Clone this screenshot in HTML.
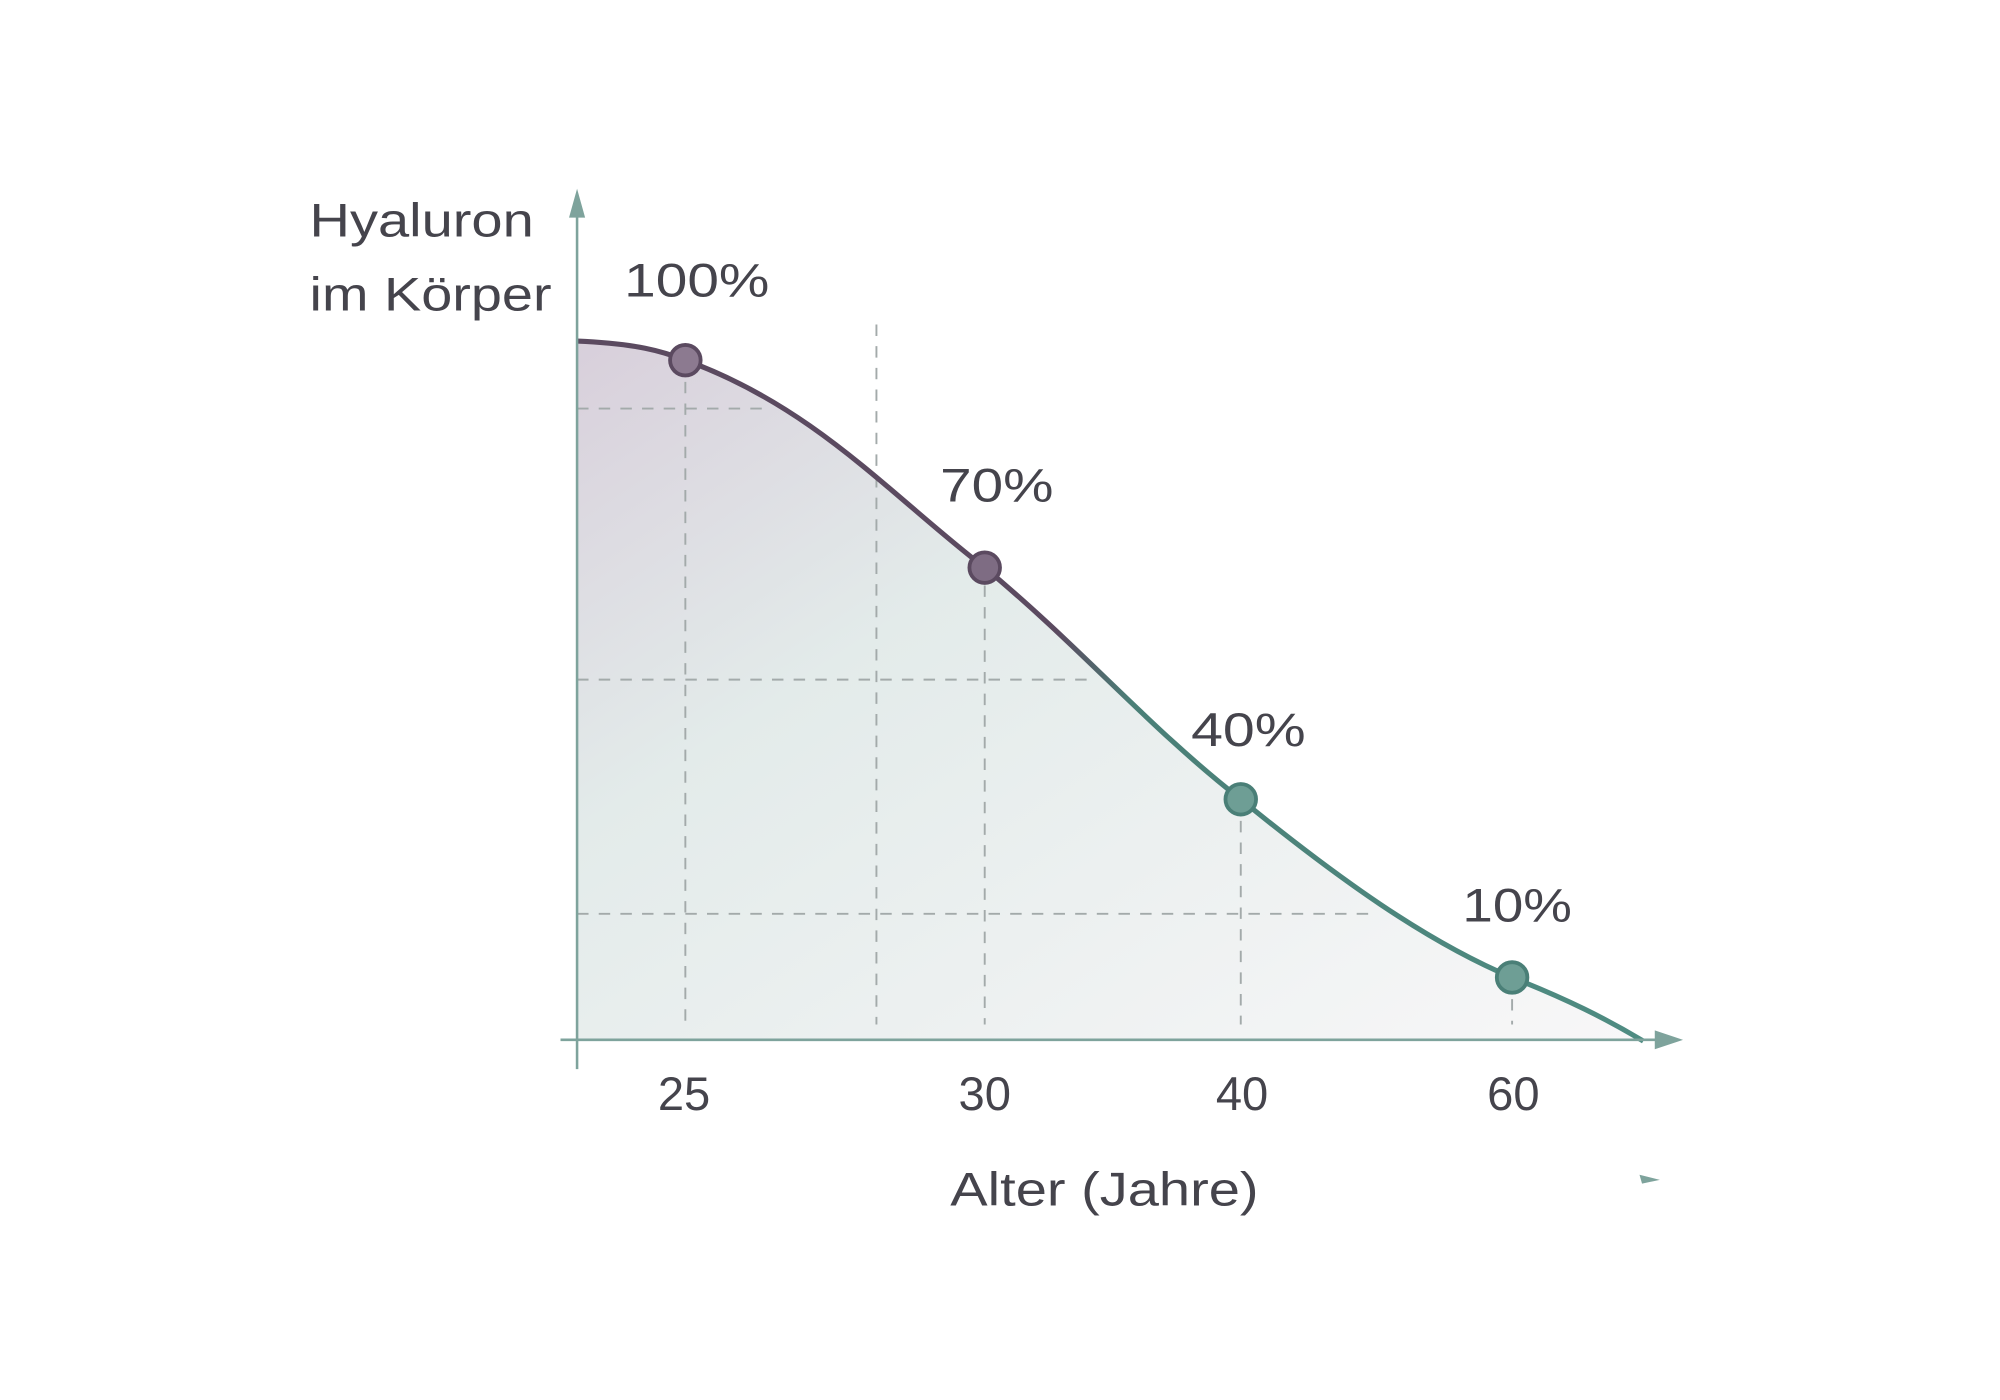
<!DOCTYPE html>
<html><head><meta charset="utf-8"><style>html,body{margin:0;padding:0;background:#fff}svg{display:block}</style></head>
<body>
<svg width="2000" height="1400" viewBox="0 0 1570 1100" preserveAspectRatio="none" xmlns="http://www.w3.org/2000/svg">
<defs>
<linearGradient id="fill" x1="0" y1="0" x2="1" y2="1">
<stop offset="0" stop-color="#d8cfdb"/>
<stop offset="0.35" stop-color="#e3ebea"/>
<stop offset="1" stop-color="#f8f7f8"/>
</linearGradient>
<linearGradient id="stroke" x1="453" y1="0" x2="1290" y2="0" gradientUnits="userSpaceOnUse">
<stop offset="0" stop-color="#5b4a60"/>
<stop offset="0.45" stop-color="#5b4a60"/>
<stop offset="0.52" stop-color="#4a7f77"/>
<stop offset="1" stop-color="#4f8c82"/>
</linearGradient>
</defs>
<rect width="1570" height="1100" fill="#fff"/>
<path d="M453,268 C500,270 520,276 538,283 C640,320 700,390 773,446 C850,510 900,570 974,628 C1050,690 1120,740 1187,768 C1230,785 1260,800 1290,818 L453,818 Z" fill="url(#fill)"/>
<g stroke="#a3aaaa" stroke-width="1.5" stroke-dasharray="9,8" fill="none">
<line x1="538" y1="300" x2="538" y2="805"/>
<line x1="688" y1="255" x2="688" y2="805"/>
<line x1="773" y1="460" x2="773" y2="805"/>
<line x1="974" y1="645" x2="974" y2="805"/>
<line x1="1187" y1="785" x2="1187" y2="805"/>
<line x1="453" y1="321" x2="600" y2="321"/>
<line x1="453" y1="534" x2="860" y2="534"/>
<line x1="453" y1="718" x2="1080" y2="718"/>
</g>
<path d="M453,268 C500,270 520,276 538,283 C640,320 700,390 773,446 C850,510 900,570 974,628 C1050,690 1120,740 1187,768 C1230,785 1260,800 1290,818" fill="none" stroke="url(#stroke)" stroke-width="4"/>
<g stroke="#7ea39c" stroke-width="2" fill="#7ea39c">
<line x1="453" y1="160" x2="453" y2="840"/>
<line x1="440" y1="817" x2="1305" y2="817"/>
<path d="M453,152 L448,170 L458,170 Z"/>
<path d="M1318,817 L1300,811 L1300,823 Z"/>
<path d="M1303,927 L1287,923 L1289,930 Z" stroke="none"/>
</g>
<g stroke-width="3">
<circle cx="538" cy="283" r="12" fill="#8c7a90" stroke="#5b4a60"/>
<circle cx="773" cy="446" r="12" fill="#7e6c83" stroke="#5b4a60"/>
<circle cx="974" cy="628" r="12" fill="#6e9e95" stroke="#4a7f77"/>
<circle cx="1187" cy="768" r="12" fill="#6e9e95" stroke="#4a7f77"/>
</g>
<g font-family="Liberation Sans, sans-serif" fill="#45444c" font-size="37">
<text x="243" y="186" textLength="176" lengthAdjust="spacingAndGlyphs">Hyaluron</text>
<text x="243" y="244" textLength="190" lengthAdjust="spacingAndGlyphs">im Körper</text>
<text x="490" y="233" textLength="114" lengthAdjust="spacingAndGlyphs">100%</text>
<text x="738" y="394" textLength="89" lengthAdjust="spacingAndGlyphs">70%</text>
<text x="935" y="586" textLength="90" lengthAdjust="spacingAndGlyphs">40%</text>
<text x="1148" y="724" textLength="86" lengthAdjust="spacingAndGlyphs">10%</text>
<g text-anchor="middle">
<text x="537" y="872">25</text>
<text x="773" y="872">30</text>
<text x="975" y="872">40</text>
<text x="1188" y="872">60</text>
</g>
<text x="746" y="947" textLength="242" lengthAdjust="spacingAndGlyphs">Alter (Jahre)</text>
</g>
</svg>
</body></html>
